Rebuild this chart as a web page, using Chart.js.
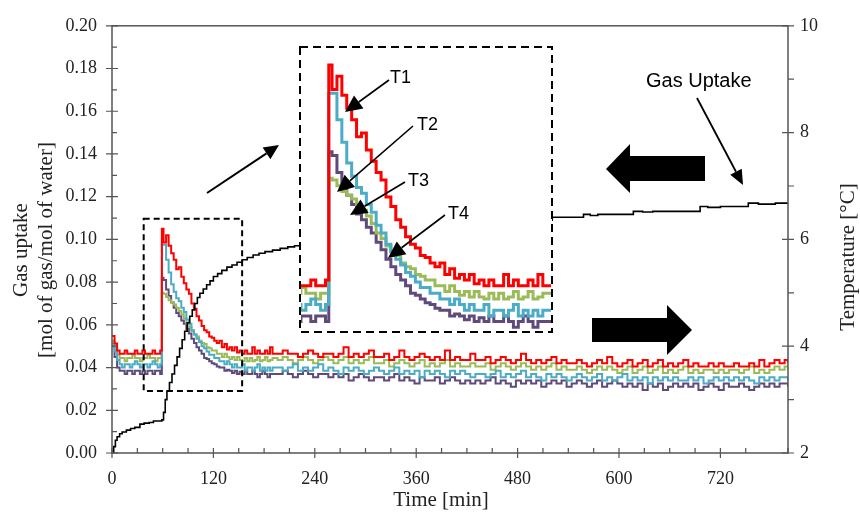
<!DOCTYPE html>
<html lang="en">
<head>
<meta charset="UTF-8">
<title>Gas uptake and temperature</title>
<script src="https://cdn.jsdelivr.net/npm/chart.js@4"></script>
<style>
  body { margin: 0; background: #fff; }
  .wrap { position: relative; width: 860px; height: 513px; }
  .wrap canvas { position: absolute; left: 0; top: 0; }
  #insetChart { pointer-events: none; }
</style>
</head>
<body>
<div class="wrap">
  <canvas id="mainChart" width="860" height="513"></canvas>
  <canvas id="insetChart" width="860" height="513"></canvas>
</div>
<script>
// ---- data ----
function steps(a, b, s) { const out = []; for (let v = a; v <= b; v += s) out.push(v); return out; }

// sampling times of the temperature log [min]
const tempTime = [].concat(steps(0, 57, 3), [59], steps(61, 190, 3), steps(196, 796, 6), [800]);

// temperatures [°C]
const tempT1 = [
  4.19, 4.05, 3.92, 3.86, 3.86, 3.92, 3.86, 3.86, 3.86, 3.92, 3.86, 3.86, 3.92, 3.86, 3.86, 3.86, 3.92, 3.86, 3.86, 3.92,
  6.20,
  5.94, 6.08, 5.88, 5.74, 5.62, 5.44, 5.48, 5.30, 5.18, 5.06,
  4.98, 4.80, 4.70, 4.56, 4.48, 4.38, 4.30, 4.26, 4.18, 4.16,
  4.10, 4.06, 4.10, 3.98, 4.04, 3.94, 3.98, 3.92, 3.98, 3.88,
  3.92, 3.86, 3.92, 3.86, 3.86, 3.98, 3.86, 3.92, 3.86, 3.86,
  3.92, 3.86, 3.98, 3.86,
  3.86, 3.92, 3.86, 3.86, 3.80, 3.86, 3.92, 3.86, 3.80, 3.86,
  3.86, 3.80, 3.86, 3.98, 3.80, 3.86, 3.80, 3.86, 3.92, 3.80,
  3.80, 3.86, 3.74, 3.80, 3.92, 3.80, 3.74, 3.80, 3.86, 3.80,
  3.74, 3.80, 3.74, 3.92, 3.74, 3.80, 3.74, 3.74, 3.86, 3.74,
  3.74, 3.80, 3.68, 3.74, 3.80, 3.74, 3.68, 3.74, 3.86, 3.74,
  3.68, 3.74, 3.68, 3.74, 3.80, 3.68, 3.74, 3.68, 3.68, 3.74,
  3.68, 3.62, 3.68, 3.74, 3.68, 3.80, 3.68, 3.62, 3.68, 3.74,
  3.62, 3.68, 3.74, 3.62, 3.68, 3.74, 3.62, 3.68, 3.62, 3.68,
  3.74, 3.62, 3.68, 3.62, 3.62, 3.68, 3.62, 3.68, 3.62, 3.62,
  3.68, 3.62, 3.62, 3.68, 3.62, 3.74, 3.62, 3.68, 3.74, 3.68,
  3.74, 3.68
];
const tempT2 = [
  4.05, 3.90, 3.74, 3.66, 3.60, 3.66, 3.66, 3.60, 3.66, 3.72, 3.66, 3.60, 3.66, 3.66, 3.60, 3.66, 3.72, 3.66, 3.60, 3.66,
  5.90,
  5.90, 5.62, 5.38, 5.16, 5.02, 4.90, 4.84, 4.72, 4.64, 4.50,
  4.42, 4.30, 4.22, 4.14, 4.08, 4.00, 3.96, 3.90, 3.84, 3.84,
  3.78, 3.78, 3.72, 3.72, 3.66, 3.72, 3.66, 3.60, 3.66, 3.60,
  3.60, 3.66, 3.54, 3.60, 3.60, 3.54, 3.60, 3.66, 3.54, 3.60,
  3.54, 3.60, 3.54, 3.60,
  3.60, 3.54, 3.60, 3.66, 3.54, 3.60, 3.54, 3.60, 3.66, 3.54,
  3.60, 3.54, 3.48, 3.60, 3.54, 3.60, 3.54, 3.48, 3.54, 3.60,
  3.54, 3.48, 3.54, 3.60, 3.48, 3.54, 3.48, 3.54, 3.42, 3.54,
  3.48, 3.54, 3.48, 3.42, 3.54, 3.48, 3.54, 3.48, 3.42, 3.48,
  3.48, 3.42, 3.48, 3.54, 3.42, 3.48, 3.42, 3.48, 3.54, 3.42,
  3.48, 3.42, 3.36, 3.48, 3.42, 3.48, 3.42, 3.36, 3.42, 3.48,
  3.42, 3.36, 3.42, 3.48, 3.36, 3.42, 3.36, 3.42, 3.48, 3.36,
  3.42, 3.36, 3.42, 3.30, 3.42, 3.36, 3.42, 3.36, 3.42, 3.36,
  3.36, 3.42, 3.36, 3.42, 3.30, 3.36, 3.42, 3.36, 3.42, 3.36,
  3.42, 3.36, 3.42, 3.36, 3.30, 3.42, 3.36, 3.42, 3.36, 3.42,
  3.42, 3.36
];
const tempT3 = [
  4.10, 3.98, 3.84, 3.78, 3.78, 3.72, 3.78, 3.78, 3.84, 3.78, 3.78, 3.72, 3.78, 3.78, 3.84, 3.78, 3.78, 3.72, 3.78, 3.78,
  5.00,
  4.98, 4.92, 4.86, 4.82, 4.78, 4.72, 4.66, 4.60, 4.52, 4.42,
  4.36, 4.28, 4.22, 4.18, 4.10, 4.06, 4.04, 3.98, 3.96, 3.92,
  3.92, 3.86, 3.86, 3.80, 3.86, 3.80, 3.76, 3.80, 3.74, 3.80,
  3.74, 3.72, 3.78, 3.72, 3.78, 3.72, 3.74, 3.80, 3.72, 3.74,
  3.80, 3.72, 3.74, 3.78,
  3.74, 3.80, 3.74, 3.68, 3.74, 3.80, 3.74, 3.68, 3.74, 3.80,
  3.74, 3.68, 3.74, 3.80, 3.68, 3.74, 3.68, 3.74, 3.80, 3.68,
  3.68, 3.74, 3.62, 3.68, 3.74, 3.68, 3.62, 3.68, 3.74, 3.62,
  3.68, 3.62, 3.68, 3.74, 3.62, 3.68, 3.62, 3.62, 3.68, 3.62,
  3.62, 3.68, 3.56, 3.62, 3.68, 3.62, 3.56, 3.62, 3.68, 3.62,
  3.56, 3.62, 3.56, 3.62, 3.68, 3.56, 3.62, 3.56, 3.56, 3.62,
  3.56, 3.50, 3.56, 3.62, 3.56, 3.62, 3.56, 3.50, 3.56, 3.62,
  3.50, 3.56, 3.62, 3.50, 3.56, 3.62, 3.50, 3.56, 3.50, 3.56,
  3.62, 3.50, 3.56, 3.50, 3.56, 3.56, 3.50, 3.56, 3.50, 3.56,
  3.56, 3.50, 3.56, 3.62, 3.50, 3.56, 3.50, 3.56, 3.62, 3.56,
  3.62, 3.56
];
const tempT4 = [
  4.00, 3.80, 3.60, 3.54, 3.54, 3.48, 3.54, 3.54, 3.48, 3.54, 3.54, 3.48, 3.54, 3.48, 3.54, 3.54, 3.48, 3.54, 3.54, 3.48,
  5.28,
  5.24, 5.06, 4.94, 4.82, 4.72, 4.62, 4.56, 4.48, 4.42, 4.32,
  4.24, 4.14, 4.06, 3.98, 3.92, 3.86, 3.78, 3.76, 3.72, 3.68,
  3.66, 3.62, 3.60, 3.60, 3.54, 3.56, 3.54, 3.50, 3.54, 3.48,
  3.52, 3.48, 3.54, 3.48, 3.48, 3.54, 3.48, 3.42, 3.48, 3.54,
  3.48, 3.42, 3.48, 3.48,
  3.48, 3.54, 3.48, 3.42, 3.48, 3.54, 3.48, 3.42, 3.48, 3.48,
  3.42, 3.48, 3.42, 3.48, 3.36, 3.42, 3.48, 3.42, 3.36, 3.42,
  3.42, 3.36, 3.42, 3.48, 3.36, 3.42, 3.36, 3.30, 3.42, 3.36,
  3.36, 3.42, 3.30, 3.36, 3.42, 3.36, 3.30, 3.36, 3.30, 3.36,
  3.30, 3.36, 3.42, 3.30, 3.36, 3.30, 3.24, 3.36, 3.30, 3.36,
  3.30, 3.36, 3.24, 3.30, 3.36, 3.30, 3.36, 3.24, 3.30, 3.36,
  3.30, 3.24, 3.30, 3.36, 3.24, 3.30, 3.36, 3.30, 3.24, 3.30,
  3.24, 3.30, 3.18, 3.30, 3.24, 3.30, 3.18, 3.24, 3.30, 3.24,
  3.30, 3.24, 3.30, 3.18, 3.24, 3.30, 3.24, 3.18, 3.30, 3.24,
  3.24, 3.30, 3.24, 3.18, 3.24, 3.30, 3.24, 3.30, 3.24, 3.30,
  3.30, 3.24
];

// gas uptake [mol of gas / mol of water]
const gasTime = [0, 2, 4, 6, 9, 12, 17, 22, 27, 33, 38, 44, 49, 54, 59, 61, 63, 65, 68, 71,
  74, 77, 80, 83, 86, 89, 92, 95, 98, 101, 104, 108, 112, 116, 120, 125, 130, 136, 142, 148,
  154, 160, 167, 174, 181, 190, 199, 208, 216, 224, 240, 260, 280, 300, 320, 340, 360, 380, 400, 420,
  440, 460, 480, 500, 521, 530, 558, 566, 575, 590, 617, 628, 640, 660, 696, 705, 720, 753, 765, 785, 800];
const gasUptake = [0, 0.003, 0.006, 0.0076, 0.009, 0.0098, 0.0107, 0.0115, 0.012, 0.0135, 0.014, 0.0143, 0.015, 0.015, 0.0155, 0.019, 0.025, 0.029, 0.033, 0.037,
  0.041, 0.045, 0.049, 0.053, 0.057, 0.061, 0.064, 0.067, 0.070, 0.0728, 0.0748, 0.0768, 0.0788, 0.0806, 0.0826, 0.084, 0.0855, 0.087, 0.088, 0.0893,
  0.0905, 0.0915, 0.0927, 0.0935, 0.0943, 0.095, 0.0958, 0.0965, 0.097, 0.0975, 0.098, 0.099, 0.100, 0.101, 0.102, 0.103, 0.104, 0.105, 0.1055, 0.106,
  0.107, 0.1075, 0.108, 0.109, 0.1104, 0.1104, 0.1117, 0.1112, 0.1117, 0.1117, 0.1131, 0.1128, 0.1131, 0.1131, 0.1154, 0.115, 0.1154, 0.117, 0.1165, 0.117, 0.117];

const seriesNames = ['T1', 'T2', 'T3', 'T4'];
const seriesColors = ['#ff0000', '#4bacc6', '#9bbb59', '#604a7b'];

// ---- helpers ----
const serif = '"Liberation Serif", "Times New Roman", serif';
const sans = '"Liberation Sans", Arial, sans-serif';
const pairs = (xs, ys) => xs.map((x, i) => ({ x: x, y: ys[i] }));
const tempSeries = [tempT1, tempT2, tempT3, tempT4];

function arrow(ctx, x1, y1, x2, y2, head, half, lw) {
  const a = Math.atan2(y2 - y1, x2 - x1);
  const bx = x2 - head * Math.cos(a), by = y2 - head * Math.sin(a);
  ctx.save();
  ctx.strokeStyle = '#000'; ctx.fillStyle = '#000'; ctx.lineWidth = lw;
  ctx.beginPath(); ctx.moveTo(x1, y1); ctx.lineTo(bx, by); ctx.stroke();
  ctx.beginPath(); ctx.moveTo(x2, y2);
  ctx.lineTo(bx + half * Math.sin(a), by - half * Math.cos(a));
  ctx.lineTo(bx - half * Math.sin(a), by + half * Math.cos(a));
  ctx.closePath(); ctx.fill();
  ctx.restore();
}

function poly(ctx, pts) {
  ctx.beginPath();
  pts.forEach((p, i) => i ? ctx.lineTo(p[0], p[1]) : ctx.moveTo(p[0], p[1]));
  ctx.closePath(); ctx.fill();
}

const isMajorX = v => v % 120 === 0;
const isMajorY = v => Math.round(v * 100) % 2 === 0;
const isMajorY2 = v => Math.round(v) % 2 === 0;

// ---- main chart decorations ----
const mainDecor = {
  id: 'mainDecor',
  afterDraw(chart) {
    const ctx = chart.ctx;
    const { left, right, top, bottom } = chart.chartArea;
    const sx = chart.scales.x, sy = chart.scales.y, sy2 = chart.scales.y2;
    ctx.save();
    // frame
    ctx.strokeStyle = '#555'; ctx.lineWidth = 1.5;
    ctx.strokeRect(left, top, right - left, bottom - top);
    // ticks
    ctx.lineWidth = 1.2;
    ctx.beginPath();
    sx.ticks.forEach(t => {
      const p = sx.getPixelForValue(t.value);
      if (isMajorX(t.value)) { ctx.moveTo(p, bottom - 5); ctx.lineTo(p, bottom + 5); }
      else { ctx.moveTo(p, bottom - 5); ctx.lineTo(p, bottom); }
    });
    sy.ticks.forEach(t => {
      const p = sy.getPixelForValue(t.value);
      if (isMajorY(t.value)) { ctx.moveTo(left - 6, p); ctx.lineTo(left + 6, p); }
      else { ctx.moveTo(left, p); ctx.lineTo(left + 5, p); }
    });
    sy2.ticks.forEach(t => {
      const p = sy2.getPixelForValue(t.value);
      if (isMajorY2(t.value)) { ctx.moveTo(right - 6, p); ctx.lineTo(right + 6, p); }
      else { ctx.moveTo(right, p); ctx.lineTo(right + 6, p); }
    });
    ctx.stroke();

    // axis titles
    ctx.fillStyle = '#222';
    ctx.textAlign = 'center'; ctx.textBaseline = 'middle';
    ctx.font = '21px ' + serif;
    ctx.fillText('Time [min]', 441, 500);
    ctx.save(); ctx.translate(21, 250); ctx.rotate(-Math.PI / 2);
    ctx.fillText('Gas uptake', 0, 0); ctx.restore();
    ctx.save(); ctx.translate(46, 250); ctx.rotate(-Math.PI / 2);
    ctx.fillText('[mol of gas/mol of water]', 0, 0); ctx.restore();
    ctx.save(); ctx.translate(848, 257); ctx.rotate(-Math.PI / 2);
    ctx.fillText('Temperature [°C]', 0, 0); ctx.restore();

    // dashed box around the zoomed region
    ctx.strokeStyle = '#000'; ctx.lineWidth = 2; ctx.setLineDash([6, 4]);
    const bx1 = sx.getPixelForValue(37.5), bx2 = sx.getPixelForValue(154);
    const by1 = sy.getPixelForValue(0.1097), by2 = sy.getPixelForValue(0.029);
    ctx.strokeRect(bx1, by1, bx2 - bx1, by2 - by1);
    ctx.setLineDash([]);

    // pointer to the inset
    arrow(ctx, 207, 193, 279, 145, 15, 7, 2);

    // Gas Uptake label
    ctx.fillStyle = '#000';
    ctx.textAlign = 'left';
    ctx.font = '20px ' + sans;
    ctx.fillText('Gas Uptake', 646, 81);
    arrow(ctx, 697, 98, 743, 185, 15, 6.5, 1.8);

    // block arrows: gas -> left axis, temperature -> right axis
    poly(ctx, [[606, 169], [630, 144], [630, 156], [705, 156], [705, 181], [630, 181], [630, 193]]);
    poly(ctx, [[692, 330], [667, 305], [667, 318], [592, 318], [592, 342], [667, 342], [667, 355]]);
    ctx.restore();
  }
};

const tickFont = { family: serif, size: 18 };

new Chart(document.getElementById('mainChart'), {
  type: 'line',
  data: {
    datasets: [
      { label: 'Gas uptake', data: pairs(gasTime, gasUptake), yAxisID: 'y', borderColor: '#000', borderWidth: 1.6, stepped: true, order: 0 }
    ].concat(tempSeries.map((s, i) => ({
      label: seriesNames[i], data: pairs(tempTime, s), yAxisID: 'y2',
      borderColor: seriesColors[i], borderWidth: 2, stepped: true, order: i + 1
    })))
  },
  options: {
    responsive: false,
    animation: false,
    layout: { padding: { top: 22 } },
    elements: { point: { radius: 0 } },
    plugins: { legend: { display: false }, tooltip: { enabled: false } },
    scales: {
      x: {
        type: 'linear', min: 0, max: 800,
        grid: { display: false, drawTicks: false }, border: { display: false },
        ticks: { stepSize: 30, autoSkip: false, maxRotation: 0, padding: 15, color: '#222', font: tickFont,
          callback: v => isMajorX(v) ? String(v) : '' },
        afterFit: s => { s.height = 60; }
      },
      y: {
        position: 'left', min: 0, max: 0.2,
        grid: { display: false, drawTicks: false }, border: { display: false },
        ticks: { stepSize: 0.01, autoSkip: false, padding: 15, color: '#222', font: tickFont,
          callback: v => isMajorY(v) ? (Math.round(v * 100) / 100).toFixed(2) : '' },
        afterFit: s => { s.width = 112; }
      },
      y2: {
        position: 'right', min: 2, max: 10,
        grid: { display: false, drawTicks: false }, border: { display: false },
        ticks: { stepSize: 1, autoSkip: false, padding: 12, color: '#222', font: tickFont,
          callback: v => isMajorY2(v) ? String(Math.round(v)) : '' },
        afterFit: s => { s.width = 72; }
      }
    }
  },
  plugins: [mainDecor]
});

// ---- inset (zoom of the temperature peak) ----
const insetBox = { left: 300, top: 47, right: 552, bottom: 332 };
const insetDecor = {
  id: 'insetDecor',
  beforeDatasetsDraw(chart) {
    const ctx = chart.ctx;
    ctx.save();
    ctx.fillStyle = '#fff';
    ctx.fillRect(insetBox.left, insetBox.top, insetBox.right - insetBox.left, insetBox.bottom - insetBox.top);
    ctx.restore();
  },
  afterDraw(chart) {
    const ctx = chart.ctx;
    ctx.save();
    ctx.strokeStyle = '#000'; ctx.lineWidth = 2; ctx.setLineDash([8, 5]);
    ctx.strokeRect(insetBox.left, insetBox.top, insetBox.right - insetBox.left, insetBox.bottom - insetBox.top);
    ctx.setLineDash([]);
    ctx.fillStyle = '#000';
    ctx.font = '18px ' + sans;
    ctx.textAlign = 'left'; ctx.textBaseline = 'middle';
    ctx.fillText('T1', 390, 78);
    ctx.fillText('T2', 417, 125);
    ctx.fillText('T3', 408, 181);
    ctx.fillText('T4', 448, 214);
    arrow(ctx, 389, 80, 345, 112, 17, 8, 1.6);
    arrow(ctx, 413, 126, 337, 192, 17, 8, 1.6);
    arrow(ctx, 405, 182, 350, 215, 17, 8, 1.6);
    arrow(ctx, 445, 215, 388, 258, 17, 8, 1.6);
    ctx.restore();
  }
};

new Chart(document.getElementById('insetChart'), {
  type: 'line',
  data: {
    datasets: tempSeries.map((s, i) => ({
      label: seriesNames[i], data: pairs(tempTime, s),
      borderColor: seriesColors[i], borderWidth: 3, stepped: true, order: i + 1
    }))
  },
  options: {
    responsive: false,
    animation: false,
    events: [],
    layout: { padding: { left: insetBox.left + 1, top: insetBox.top + 1, right: 860 - insetBox.right + 1, bottom: 513 - insetBox.bottom + 1 } },
    elements: { point: { radius: 0 } },
    plugins: { legend: { display: false }, tooltip: { enabled: false } },
    scales: {
      x: { type: 'linear', display: false, min: 42, max: 195 },
      y: { display: false, min: 3.38, max: 6.38 }
    }
  },
  plugins: [insetDecor]
});
</script>
</body>
</html>
